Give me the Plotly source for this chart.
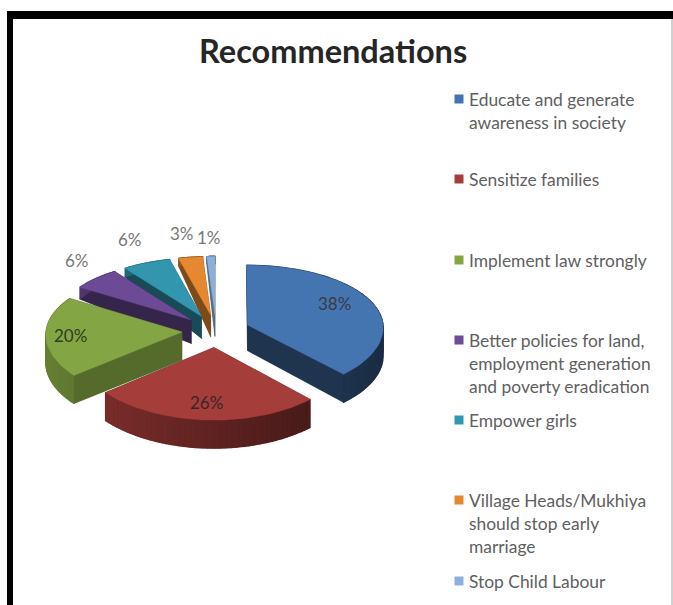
import numpy as np
import plotly.graph_objects as go

categories = [
    "Educate and generate<br>awareness in society",
    "Sensitize families",
    "Implement law strongly",
    "Better policies for land,<br>employment generation<br>and poverty eradication",
    "Empower girls",
    "Village Heads/Mukhiya<br>should stop early<br>marriage",
    "Stop Child Labour",
]
shares = [38, 26, 20, 6, 6, 3, 1]
colors = ["#4575B0", "#A53D3A", "#84A544", "#6C4A96", "#3296AE", "#E58830", "#8CAFDC"]

W, H = 673, 605
CX, CY = 216, 331      # pie centre on the page
RX, RY = 136, 65       # radius across and along the tilted plane
PULL = 0.25            # explosion distance, in radii
PERSP = 14             # viewer distance, in radii
FACE_DARK = [0.55, 0.55, 0.35, 0.5, 0.5, 0.45, 0.4]   # darkening of each slice's cut faces

fig = go.Figure()


def project(u, v):
    s = PERSP / (PERSP - v)
    return CX + RX * u * np.sqrt(s), CY + RY * v * s


def thickness(v):
    return np.interp(v, [-1.3, -0.8, -0.3, 0.0, 1.3], [7, 10, 20, 28, 28])


def shade(hex_color, f):
    rgb = [int(hex_color[i:i + 2], 16) for i in (1, 3, 5)]
    return "rgb(%d,%d,%d)" % tuple(c * (1 - f) for c in rgb)


def polygon(xs, ys, color, width=0.4):
    fig.add_trace(go.Scatter(
        x=list(xs), y=list(ys), mode="lines", fill="toself", fillcolor=color,
        line=dict(width=width, color=color), hoverinfo="skip", showlegend=False,
    ))


# Slice extents, clockwise from twelve o'clock
edges = np.cumsum([0] + shares) / sum(shares) * 2 * np.pi
slices = []
for i, share in enumerate(shares):
    a0, a1 = edges[i], edges[i + 1]
    mid = (a0 + a1) / 2
    slices.append((i, a0, a1, mid, PULL * np.sin(mid), -PULL * np.cos(mid)))


def draw_slice(i, a0, a1, mid, ou, ov):
    base = colors[i]
    t = np.linspace(a0, a1, 40)
    u = np.concatenate([[ou], ou + np.sin(t), [ou]])
    v = np.concatenate([[ov], ov - np.cos(t), [ov]])
    x, y = project(u, v)
    h = thickness(v)

    # Underside and cut faces
    polygon(x, y + h, shade(base, FACE_DARK[i]))
    for j in (0, len(x) - 2):
        polygon([x[j], x[j + 1], x[j + 1], x[j]],
                [y[j], y[j + 1], y[j + 1] + h[j + 1], y[j] + h[j]],
                shade(base, FACE_DARK[i]))
    # Curved outer wall, lit from the left
    for j in range(1, len(x) - 2):
        f = np.interp(np.sin(t[j - 1]), [-1, 1], [0.22, 0.62])
        polygon([x[j], x[j + 1], x[j + 1], x[j]],
                [y[j], y[j + 1], y[j + 1] + h[j + 1], y[j] + h[j]],
                shade(base, f), width=1.2)
    # Top face
    polygon(x, y, base)


# Back slices first so nearer ones cover them
for index in [6, 5, 4, 3, 2, 0, 1]:
    draw_slice(*slices[index])

# Percentage labels
label_rho = [0.70, 0.77, 0.82, 1.20, 1.30, 1.45, 1.36]
label_lift = [-5, 0, 0, -10, -9, 0, 0]
label_color = ["#3A3A45", "#3A2525", "#2F3D1E", "#777777", "#777777", "#777777", "#777777"]
for (i, a0, a1, mid, ou, ov), rho, lift, col in zip(slices, label_rho, label_lift, label_color):
    lx, ly = project(ou + rho * np.sin(mid), ov - rho * np.cos(mid))
    fig.add_annotation(x=lx, y=ly + lift, text=f"{shares[i]}%", showarrow=False,
                       font=dict(family="Lato", size=17, color=col))

# Legend swatches and wrapped entries
legend_y = [99, 179, 260, 340, 420, 500, 581]
LINE_GAP = 23
fig.add_trace(go.Scatter(
    x=[459] * len(categories), y=legend_y, mode="markers",
    marker=dict(symbol="square", size=9, color=colors), hoverinfo="skip", showlegend=False,
))
for label, y0 in zip(categories, legend_y):
    for k, line in enumerate(label.split("<br>")):
        fig.add_annotation(x=467, y=y0 + k * LINE_GAP, text=line, showarrow=False, xanchor="left",
                           font=dict(family="Lato", size=17.4, color="#606060"))

fig.add_annotation(x=333, y=50, text="<b>Recommendations</b>", showarrow=False,
                   font=dict(family="Lato", size=32.5, color="#262626"))

# Page frame
frame = [(7, 11, W, 19, "black"), (7, 11, 13, H, "black"), (671, 19, 673, H, "#D0D0D0")]
shapes = [dict(type="rect", x0=a, y0=b, x1=c, y1=d, fillcolor=col, line_width=0, layer="above")
          for a, b, c, d, col in frame]

fig.update_layout(
    width=W, height=H, autosize=False, margin=dict(l=0, r=0, t=0, b=0),
    paper_bgcolor="white", plot_bgcolor="white", showlegend=False, shapes=shapes,
    xaxis=dict(range=[0, W], visible=False, fixedrange=True),
    yaxis=dict(range=[H, 0], visible=False, fixedrange=True),
)
fig.write_html("out.html", config=dict(displayModeBar=False))
